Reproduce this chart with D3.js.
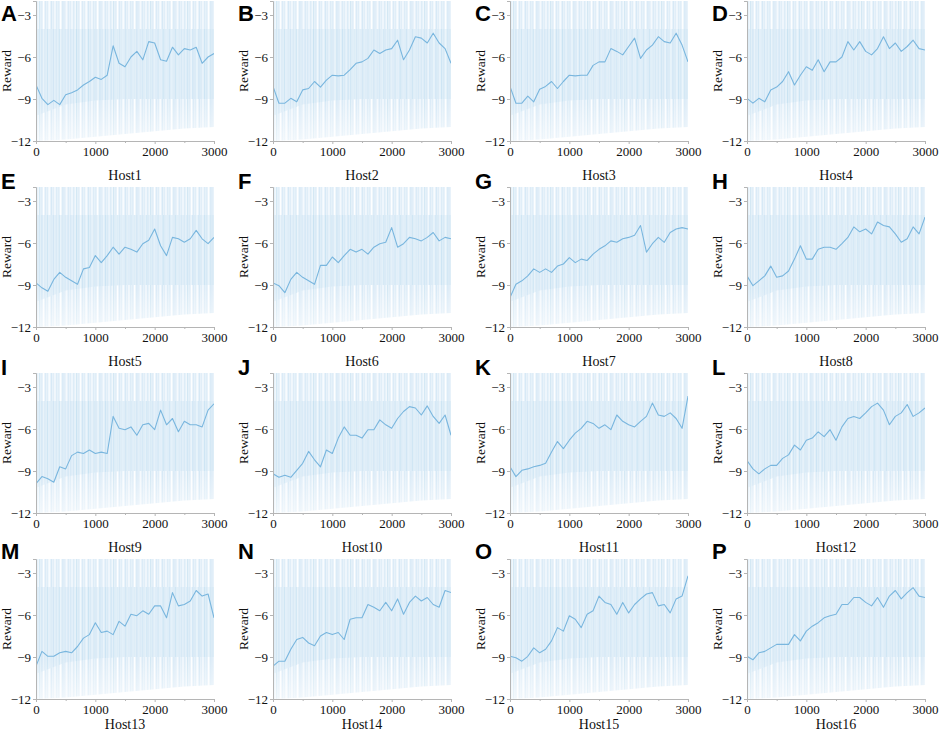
<!DOCTYPE html>
<html>
<head>
<meta charset="utf-8">
<script src="https://cdn.jsdelivr.net/npm/d3@7"></script>
<style>
  body { margin: 0; background: #fff; }
  svg { display: block; }
</style>
</head>
<body>
<svg id="fig"></svg>
<script>
// training steps the smoothed curves were read at
const steps = [0, 100, 200, 300, 400, 500, 600, 700, 800, 900, 1000, 1100, 1200, 1300, 1400, 1500,
               1600, 1700, 1800, 1900, 2000, 2100, 2200, 2300, 2400, 2500, 2600, 2700, 2800, 2900, 3000];

// smoothed reward per host
const host1  = [-8.0, -8.95, -9.4, -9.1, -9.4, -8.7, -8.55, -8.35, -8.0, -7.75, -7.45, -7.6, -7.3, -5.2, -6.45, -6.7, -6.0, -5.6, -6.2, -4.9, -5.0, -6.2, -6.3, -5.3, -5.85, -5.4, -5.5, -5.3, -6.45, -6.0, -5.75];
const host2  = [-8.1, -9.3, -9.3, -8.95, -9.2, -8.35, -8.25, -7.75, -8.15, -7.65, -7.3, -7.35, -7.3, -6.9, -6.45, -6.35, -6.1, -5.5, -5.75, -5.5, -5.4, -4.8, -6.2, -5.5, -4.55, -4.65, -5.0, -4.3, -5.0, -5.4, -6.45];
const host3  = [-8.1, -9.3, -9.3, -8.8, -9.2, -8.3, -8.1, -7.75, -8.25, -7.75, -7.3, -7.35, -7.3, -7.3, -6.6, -6.35, -6.35, -5.4, -5.6, -5.85, -5.25, -4.65, -6.1, -5.5, -5.15, -4.55, -4.9, -5.0, -4.3, -5.15, -6.35];
const host4  = [-8.95, -9.3, -8.95, -9.2, -8.35, -8.15, -7.75, -7.05, -8.0, -7.3, -6.7, -6.95, -6.2, -7.05, -6.35, -6.35, -6.0, -4.9, -5.5, -4.9, -5.6, -5.85, -5.4, -4.55, -5.4, -5.0, -5.6, -5.25, -4.8, -5.4, -5.5];
const host5  = [-8.85, -9.2, -9.45, -8.6, -8.1, -8.45, -8.7, -8.95, -7.85, -7.75, -6.9, -7.4, -6.9, -6.3, -6.8, -6.3, -6.45, -6.65, -6.05, -5.8, -5.0, -6.2, -6.9, -5.6, -5.7, -5.95, -5.7, -5.1, -5.7, -6.05, -5.6];
const host6  = [-8.85, -9.05, -9.55, -8.6, -8.1, -8.45, -8.7, -8.95, -7.6, -7.6, -7.0, -7.4, -6.9, -6.45, -6.65, -6.45, -6.8, -6.3, -6.05, -5.95, -4.9, -6.3, -6.05, -5.6, -5.7, -5.85, -5.6, -5.25, -5.85, -5.6, -5.7];
const host7  = [-9.9, -8.95, -8.7, -8.35, -7.85, -8.1, -7.85, -8.1, -7.65, -7.5, -7.05, -7.4, -7.15, -7.25, -6.8, -6.45, -6.2, -5.85, -5.95, -5.7, -5.6, -5.45, -4.75, -6.65, -6.05, -5.6, -5.95, -5.25, -5.0, -4.9, -5.0];
const host8  = [-8.35, -9.05, -8.7, -8.35, -7.65, -8.45, -8.35, -8.0, -7.15, -6.2, -7.15, -7.15, -6.45, -6.3, -6.3, -6.45, -6.05, -5.6, -4.85, -5.2, -5.0, -5.35, -4.5, -4.75, -4.85, -5.35, -5.95, -5.7, -4.85, -5.35, -4.15];
const host9  = [-9.9, -9.4, -9.55, -9.8, -8.7, -8.85, -7.9, -7.65, -7.75, -7.5, -7.75, -7.65, -7.75, -5.1, -5.95, -6.05, -5.85, -6.45, -5.7, -5.6, -6.05, -4.65, -5.7, -5.25, -6.2, -5.45, -5.7, -5.7, -5.85, -4.65, -4.2];
const host10 = [-9.2, -9.45, -9.3, -9.45, -8.95, -8.45, -7.6, -8.2, -8.7, -7.5, -7.75, -6.65, -5.85, -6.45, -6.45, -6.65, -6.05, -6.05, -5.35, -5.7, -5.95, -5.25, -4.75, -4.4, -4.5, -5.0, -4.35, -5.1, -5.6, -5.0, -6.45];
const host11 = [-8.7, -9.4, -8.95, -8.85, -8.7, -8.6, -8.45, -7.65, -6.9, -7.4, -6.8, -6.3, -5.95, -5.45, -5.6, -5.95, -5.7, -6.05, -5.0, -5.45, -5.7, -5.85, -5.45, -5.1, -4.15, -5.0, -5.1, -4.85, -5.25, -5.95, -3.65];
const host12 = [-8.25, -8.85, -9.2, -8.85, -8.6, -8.6, -8.1, -7.85, -7.15, -7.5, -6.8, -6.65, -6.2, -6.55, -6.05, -6.8, -5.85, -5.25, -5.1, -5.25, -4.85, -4.4, -4.15, -4.65, -5.7, -5.1, -4.85, -4.25, -5.1, -4.85, -4.5];
const host13 = [-9.65, -8.6, -8.95, -8.95, -8.7, -8.6, -8.7, -8.25, -7.65, -7.4, -6.55, -7.25, -7.15, -7.4, -6.45, -6.8, -5.95, -6.05, -5.7, -5.95, -5.35, -5.35, -6.2, -4.4, -5.35, -5.25, -5.0, -4.25, -4.65, -4.5, -6.2];
const host14 = [-9.65, -9.3, -9.3, -8.45, -7.75, -7.6, -8.0, -8.2, -7.5, -7.25, -7.4, -7.25, -7.75, -6.3, -6.2, -6.2, -5.25, -5.45, -5.7, -5.1, -5.7, -4.85, -5.95, -5.1, -4.65, -5.0, -4.75, -5.25, -5.45, -4.25, -4.4];
const host15 = [-8.95, -9.05, -9.3, -8.95, -8.35, -8.7, -8.45, -7.85, -6.9, -7.15, -6.05, -6.3, -6.9, -5.95, -5.7, -4.65, -5.1, -5.25, -5.95, -5.1, -5.85, -5.25, -4.85, -4.5, -4.4, -5.35, -5.25, -5.85, -4.85, -4.65, -3.2];
const host16 = [-8.95, -9.2, -8.7, -8.6, -8.35, -8.1, -8.1, -8.1, -7.4, -7.85, -7.15, -6.8, -6.55, -6.2, -6.05, -5.95, -5.25, -5.25, -4.75, -4.75, -5.1, -5.35, -4.75, -5.45, -4.65, -4.25, -4.85, -4.4, -4.05, -4.65, -4.75];

const hostSeries = [host1, host2, host3, host4, host5, host6, host7, host8,
                    host9, host10, host11, host12, host13, host14, host15, host16];
const hostNames = ['Host1', 'Host2', 'Host3', 'Host4', 'Host5', 'Host6', 'Host7', 'Host8',
                   'Host9', 'Host10', 'Host11', 'Host12', 'Host13', 'Host14', 'Host15', 'Host16'];
const panelLetters = ['A', 'B', 'C', 'D', 'E', 'F', 'G', 'H', 'I', 'J', 'K', 'L', 'M', 'N', 'O', 'P'];

// spread of the raw (unsmoothed) rewards, same for every host
const bandSteps   = [0, 500, 1000, 1500, 2000, 2500, 3000];
const outerTop    = [-2, -2, -2, -2, -2, -2, -2];
const outerBottom = [-12, -11.9, -11.7, -11.5, -11.3, -11.1, -11];
const innerTop    = [-4, -4, -4, -4, -4, -4, -4];
const innerBottom = [-10.2, -9.4, -9.1, -9, -9, -9, -9];

const xTicks = [0, 1000, 2000, 3000];
const xMinorTicks = [500, 1500, 2500];
const yTicks = [-3, -6, -9, -12];

const serif = '"Liberation Serif", "Times New Roman", serif';

class RewardPanel {
    constructor (config, data) {
        this.config = {
            parent: config.parent,
            left: config.left,
            top: config.top,
            width: config.width || 178,
            height: config.height || 140,
            letter: config.letter,
            letterY: config.letterY,
            title: config.title,
            titleGap: config.titleGap || 39,
            id: config.id
        };
        this.data = data;
        this.init();
    }

    init() {
        let self = this;

        self.chart = self.config.parent.append('g')
            .attr('transform', `translate(${self.config.left}, ${self.config.top})`);

        self.xscale = d3.scaleLinear()
            .domain([0, 3000])
            .range([0, self.config.width]);

        self.yscale = d3.scaleLinear()
            .domain([-12, -2])
            .range([self.config.height, 0]);

        self.chart.append('clipPath')
            .attr('id', `clip${self.config.id}`)
            .append('rect')
            .attr('width', self.config.width)
            .attr('height', self.config.height);
    }

    render() {
        let self = this;
        let plot = self.chart.append('g')
            .attr('clip-path', `url(#clip${self.config.id})`);

        let band = d3.area()
            .x(d => self.xscale(d.step))
            .y0(d => self.yscale(d.lo))
            .y1(d => self.yscale(d.hi));

        let outer = bandSteps.map((s, i) => ({step: s, lo: outerBottom[i], hi: outerTop[i]}));
        let inner = bandSteps.map((s, i) => ({step: s, lo: innerBottom[i], hi: innerTop[i]}));

        plot.append('path')
            .attr('d', band(outer))
            .attr('fill', 'url(#outerStripes)');

        plot.append('path')
            .attr('d', band(inner))
            .attr('fill', 'url(#innerStripes)')
            .attr('opacity', 0.55);

        // raw spikes thin out toward the bottom of the range
        plot.append('rect')
            .attr('x', 0)
            .attr('width', self.config.width)
            .attr('y', self.yscale(-9.2))
            .attr('height', self.yscale(-12) - self.yscale(-9.2))
            .attr('fill', 'url(#lowFade)');

        let line = d3.line()
            .x(d => self.xscale(d.step))
            .y(d => self.yscale(d.value));

        plot.append('path')
            .datum(self.data)
            .attr('d', line)
            .attr('fill', 'none')
            .attr('stroke', '#79b6de')
            .attr('stroke-width', 1.1)
            .attr('stroke-linejoin', 'round');

        // axes
        let fmt = d3.format('d');
        let yaxis = self.chart.append('g')
            .call(d3.axisLeft(self.yscale).tickValues(yTicks).tickSize(3).tickPadding(2).tickFormat(fmt));
        let xaxis = self.chart.append('g')
            .attr('transform', `translate(0, ${self.config.height})`)
            .call(d3.axisBottom(self.xscale).tickValues(xTicks).tickSize(3).tickPadding(3).tickFormat(fmt));
        let xminor = self.chart.append('g')
            .attr('transform', `translate(0, ${self.config.height})`)
            .call(d3.axisBottom(self.xscale).tickValues(xMinorTicks).tickSize(2).tickFormat(''));
        xminor.select('.domain').remove();

        [yaxis, xaxis, xminor].forEach(a => {
            a.attr('font-family', serif).attr('font-size', 13);
            a.selectAll('.domain, line').attr('stroke', '#b5b5b5');
            a.selectAll('text').attr('fill', '#111');
        });

        self.chart.append('text')
            .attr('transform', `translate(-25.5, ${self.config.height / 2}) rotate(-90)`)
            .attr('text-anchor', 'middle')
            .attr('font-family', serif)
            .attr('font-size', 13.5)
            .attr('fill', '#111')
            .text('Reward');

        self.chart.append('text')
            .attr('x', self.config.width / 2)
            .attr('y', self.config.height + self.config.titleGap)
            .attr('text-anchor', 'middle')
            .attr('font-family', serif)
            .attr('font-size', 14)
            .attr('fill', '#111')
            .text(self.config.title);

        self.config.parent.append('text')
            .attr('x', self.config.left - 35)
            .attr('y', self.config.letterY)
            .attr('font-family', '"Liberation Sans", Arial, sans-serif')
            .attr('font-weight', 'bold')
            .attr('font-size', 22)
            .attr('fill', '#000')
            .text(self.config.letter);
    }
}

const svg = d3.select('#fig')
    .attr('width', 941)
    .attr('height', 736);

let defs = svg.append('defs');

// irregular vertical streaks standing in for the raw per-episode rewards
function stripePattern(id, base, streak, width, streaks) {
    let pat = defs.append('pattern')
        .attr('id', id)
        .attr('patternUnits', 'userSpaceOnUse')
        .attr('width', width)
        .attr('height', 10);
    pat.append('rect').attr('width', width).attr('height', 10).attr('fill', base);
    streaks.forEach(s => {
        pat.append('rect')
            .attr('x', s[0]).attr('width', s[1]).attr('height', 10)
            .attr('fill', s[2] < 0 ? '#ffffff' : streak)
            .attr('opacity', Math.abs(s[2]));
    });
}

stripePattern('outerStripes', '#e8f2fa', '#bcdbef', 37, [
    [0.5, 0.6, 0.5], [2, 0.5, -0.8], [3.2, 0.9, 0.55], [5.5, 0.5, 0.3], [7, 1.2, -0.9],
    [9, 0.6, 0.5], [11, 0.5, 0.35], [12.5, 1.5, -0.7], [15, 0.7, 0.55], [17, 0.5, 0.3],
    [18.5, 0.9, -0.8], [20.5, 0.6, 0.5], [22.5, 0.5, 0.4], [24, 1.3, -0.9], [26.5, 0.8, 0.6],
    [28.5, 0.5, 0.3], [30, 0.8, -0.7], [32, 0.6, 0.5], [34, 0.5, 0.35], [35.5, 1, -0.6]
]);

stripePattern('innerStripes', '#d8eaf6', '#b1d5ed', 29, [
    [0.5, 0.6, 0.45], [2.5, 0.8, 0.3], [4, 0.5, -0.5], [5.5, 0.9, 0.5], [8, 0.6, 0.35],
    [9.5, 0.7, -0.4], [11, 1, 0.55], [13.5, 0.6, 0.3], [15.5, 0.5, -0.5], [17, 0.9, 0.5],
    [19.5, 0.6, 0.35], [21.5, 0.7, -0.4], [23, 1, 0.55], [25.5, 0.6, 0.3], [27.5, 0.6, -0.3]
]);

let fade = defs.append('linearGradient')
    .attr('id', 'lowFade')
    .attr('x1', 0).attr('y1', 0).attr('x2', 0).attr('y2', 1);
fade.append('stop').attr('offset', 0).attr('stop-color', '#fff').attr('stop-opacity', 0);
fade.append('stop').attr('offset', 1).attr('stop-color', '#fff').attr('stop-opacity', 0.55);

const colLeft = [36, 273, 510, 747];
const rowTop = [1, 187, 373, 559];
const letterBase = [21, 189, 375, 559];
const titleGaps = [39, 39, 39, 30];

hostSeries.forEach((series, i) => {
    let row = Math.floor(i / 4), col = i % 4;
    let panel = new RewardPanel({
        parent: svg,
        left: colLeft[col],
        top: rowTop[row],
        letter: panelLetters[i],
        letterY: letterBase[row],
        title: hostNames[i],
        titleGap: titleGaps[row],
        id: i
    }, steps.map((s, k) => ({step: s, value: series[k]})));
    panel.render();
});
</script>
</body>
</html>
